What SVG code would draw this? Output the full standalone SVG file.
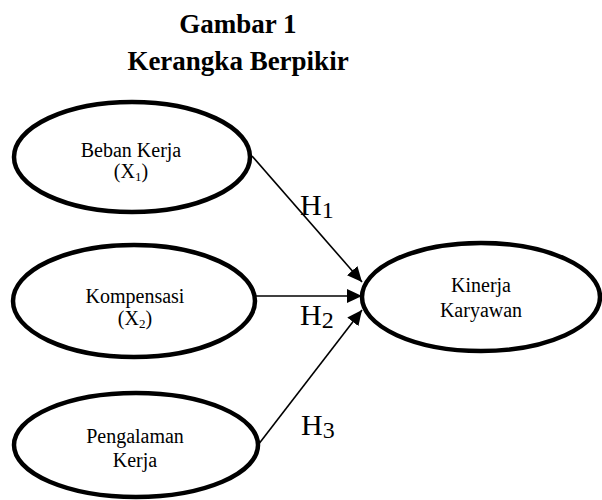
<svg xmlns="http://www.w3.org/2000/svg" width="602" height="500" viewBox="0 0 602 500">
<style>
text{font-family:"Liberation Serif","Times New Roman",serif;fill:#000}
.title{font-size:27px;font-weight:bold;text-anchor:middle}
.lbl{font-size:20px;text-anchor:middle}
.h{font-size:30px}
.node{fill:#fff;stroke:#000;stroke-width:4.5}
.edge{stroke:#000;stroke-width:1.6;fill:none;marker-end:url(#arr)}
</style>
<defs>
<marker id="arr" markerUnits="userSpaceOnUse" markerWidth="16" markerHeight="14" refX="15" refY="7" orient="auto">
<path d="M0,0 L15,7 L0,14 Z" fill="#000"/>
</marker>
</defs>
<g id="title">
<text class="title" x="238" y="33">Gambar 1</text>
<text class="title" x="238" y="70">Kerangka Berpikir</text>
</g>
<g id="connectors">
<line class="edge" x1="252" y1="156" x2="362" y2="282"/>
<line class="edge" x1="256" y1="296" x2="362" y2="296"/>
<line class="edge" x1="258" y1="445" x2="362" y2="310"/>
<text class="h" x="300" y="215">H<tspan font-size="24" dy="3">1</tspan></text>
<text class="h" x="300" y="325">H<tspan font-size="24" dy="3">2</tspan></text>
<text class="h" x="301" y="435">H<tspan font-size="24" dy="3">3</tspan></text>
</g>
<g id="beban-kerja">
<ellipse class="node" cx="132" cy="157" rx="118" ry="55"/>
<text class="lbl" x="131" y="157">Beban Kerja</text>
<text class="lbl" x="131" y="178">(X<tspan font-size="13" dy="3">1</tspan><tspan dy="-3">)</tspan></text>
</g>
<g id="kompensasi">
<ellipse class="node" cx="134" cy="301" rx="121" ry="56"/>
<text class="lbl" x="135" y="303">Kompensasi</text>
<text class="lbl" x="135" y="325">(X<tspan font-size="13" dy="3">2</tspan><tspan dy="-3">)</tspan></text>
</g>
<g id="pengalaman-kerja">
<ellipse class="node" cx="136" cy="445" rx="122" ry="52"/>
<text class="lbl" x="135" y="443">Pengalaman</text>
<text class="lbl" x="135" y="467">Kerja</text>
</g>
<g id="kinerja-karyawan">
<ellipse class="node" cx="481" cy="297" rx="119" ry="54"/>
<text class="lbl" x="481" y="292">Kinerja</text>
<text class="lbl" x="481" y="317">Karyawan</text>
</g>
</svg>
